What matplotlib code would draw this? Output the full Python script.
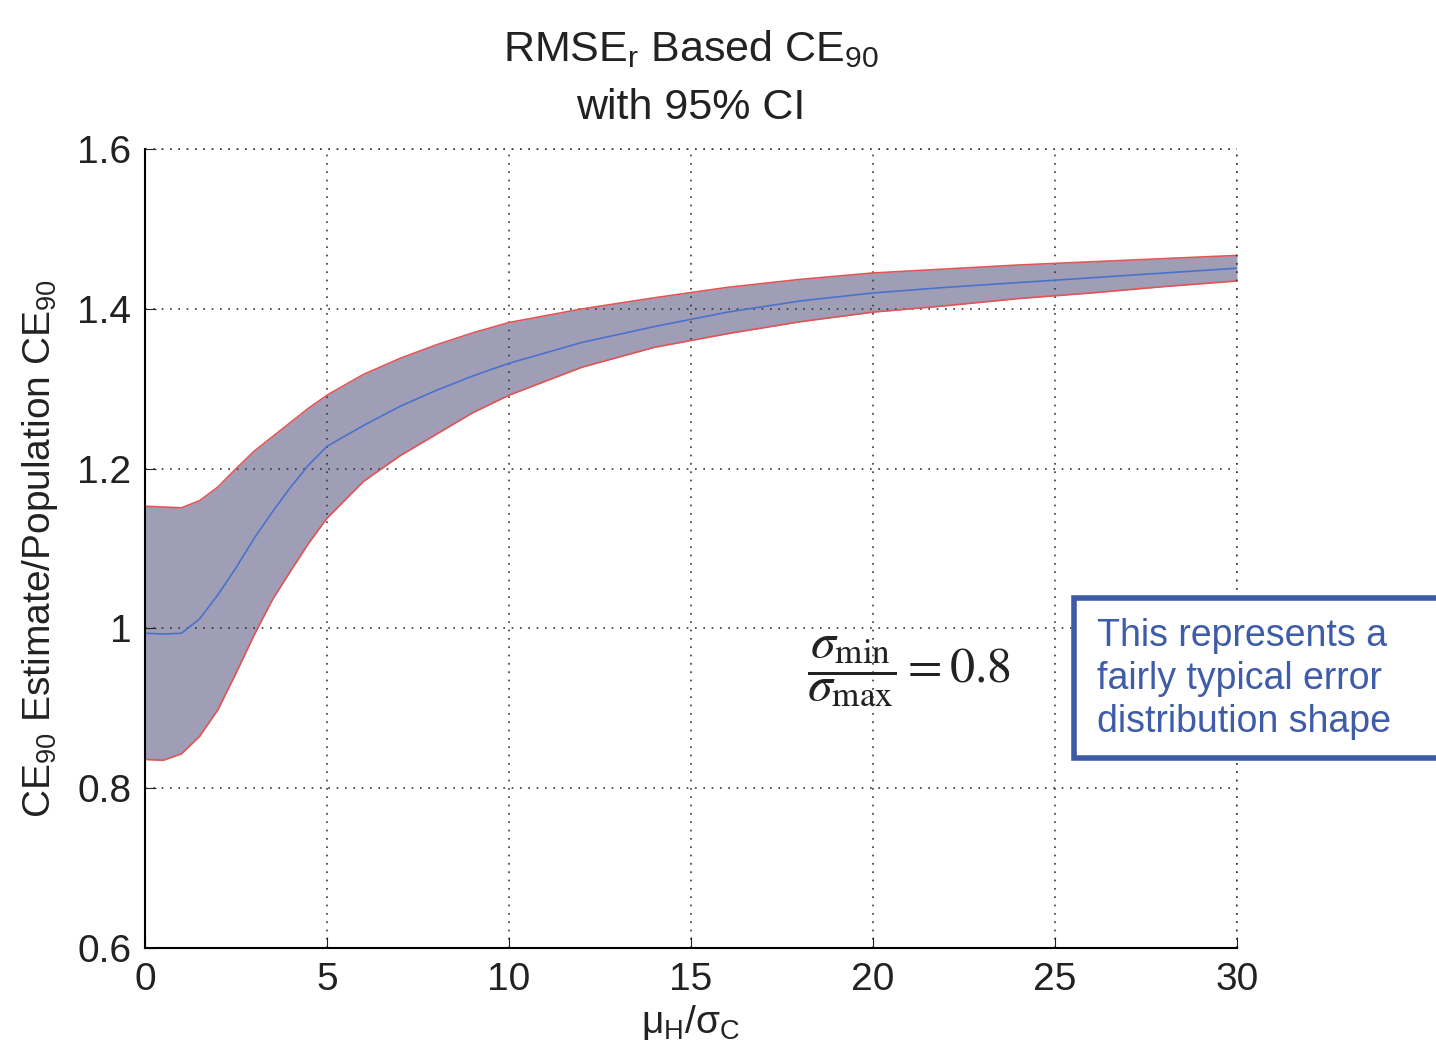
import matplotlib
matplotlib.use("Agg")
import matplotlib.pyplot as plt
from matplotlib.patches import Rectangle

plt.rcParams['font.family'] = ['Liberation Sans', 'DejaVu Sans']
plt.rcParams['mathtext.fontset'] = 'custom'
plt.rcParams['mathtext.rm'] = 'Liberation Sans'
plt.rcParams['mathtext.it'] = 'Liberation Sans:italic'
plt.rcParams['mathtext.bf'] = 'Liberation Sans:bold'

# values
ratio = [0, 0.5, 1, 1.5, 2, 2.5, 3, 3.5, 4, 4.5, 5, 6, 7, 8, 9, 10,
         12, 14, 16, 18, 20, 22, 24, 26, 28, 30]
ce90_mid = [0.994, 0.993, 0.994, 1.012, 1.042, 1.076, 1.113, 1.146, 1.177, 1.205,
            1.228, 1.254, 1.278, 1.298, 1.316, 1.332, 1.358, 1.378, 1.396, 1.410,
            1.420, 1.427, 1.433, 1.439, 1.445, 1.451]
ce90_hi = [1.153, 1.152, 1.151, 1.160, 1.177, 1.200, 1.222, 1.240, 1.258, 1.276,
           1.292, 1.318, 1.338, 1.355, 1.370, 1.383, 1.400, 1.414, 1.427, 1.437,
           1.445, 1.450, 1.455, 1.459, 1.463, 1.467]
ce90_lo = [0.836, 0.835, 0.843, 0.865, 0.898, 0.944, 0.992, 1.036, 1.072, 1.107,
           1.138, 1.184, 1.216, 1.243, 1.270, 1.292, 1.327, 1.352, 1.369, 1.384,
           1.396, 1.404, 1.413, 1.420, 1.428, 1.435]

xticks = [0, 5, 10, 15, 20, 25, 30]
yticks = [0.6, 0.8, 1.0, 1.2, 1.4, 1.6]
yticklabels = ['0.6', '0.8', '1', '1.2', '1.4', '1.6']

fig = plt.figure(figsize=(14.36, 10.58), dpi=100)
ax = fig.add_axes([0.101, 0.104, 0.7604, 0.755])

ax.fill_between(ratio, ce90_lo, ce90_hi, color='#a09eb6', lw=0)
ax.plot(ratio, ce90_hi, color='#e05555', lw=1.2)
ax.plot(ratio, ce90_lo, color='#e05555', lw=1.2)
ax.plot(ratio, ce90_mid, color='#4a72cc', lw=1.2)

ax.set_xlim(0, 30)
ax.set_ylim(0.6, 1.6)
ax.set_xticks(xticks)
ax.set_yticks(yticks)
ax.set_yticklabels(yticklabels)
ax.tick_params(direction='in', length=8, labelsize=28, pad=10, color='#222222')
ax.grid(True, color='#333333', linestyle=(0, (1, 4)), lw=1.2)
ax.spines['top'].set_visible(False)
ax.spines['right'].set_visible(False)
ax.spines['left'].set_linewidth(1.5)
ax.spines['bottom'].set_linewidth(1.5)
for lbl in ax.get_xticklabels() + ax.get_yticklabels():
    lbl.set_color('#222222')

# grid lines at the limits stand in for the missing top/right box
ax.axhline(1.6, color='#333333', linestyle=(0, (1, 4)), lw=1.2, clip_on=False)
ax.axvline(30, color='#333333', linestyle=(0, (1, 4)), lw=1.2, clip_on=False)

ax.set_title('RMSE$_\\mathrm{r}$ Based CE$_\\mathrm{90}$\nwith 95% CI',
             fontsize=31, color='#222222', pad=22, linespacing=1.55)
ax.set_xlabel('μ$_\\mathrm{H}$/σ$_\\mathrm{C}$', fontsize=28, color='#222222', labelpad=4)
ax.set_ylabel('CE$_\\mathrm{90}$ Estimate/Population CE$_\\mathrm{90}$',
              fontsize=28, color='#222222', labelpad=12)

ax.text(18.2, 0.945, r'$\dfrac{\sigma_{\mathrm{min}}}{\sigma_{\mathrm{max}}} = 0.8$',
        fontsize=36, math_fontfamily='stix', color='#222222', va='center', ha='left')

fig.patches.append(Rectangle((1074 / 1436, 300 / 1058), 0.3, 160 / 1058,
                             transform=fig.transFigure, facecolor='white',
                             edgecolor='#3d5aa6', lw=4))
fig.text(1097 / 1436, 1 - 679 / 1058,
         'This represents a\nfairly typical error\ndistribution shape',
         fontsize=27, color='#3f5ca8', ha='left', va='center', linespacing=1.24)

fig.savefig('out.png', dpi=100)
